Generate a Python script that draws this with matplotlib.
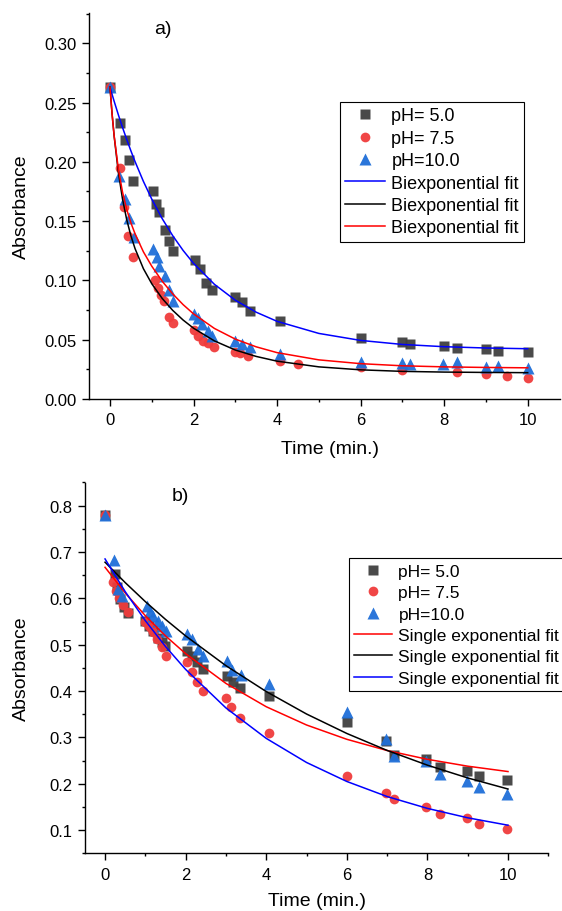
import matplotlib
matplotlib.use("Agg")
import matplotlib.pyplot as plt
from matplotlib.ticker import MultipleLocator

plt.rcParams['font.family'] = ['Liberation Sans', 'DejaVu Sans']

# ---------------- Panel a) data ----------------
a_t_ph5 = [0, 0.24, 0.35, 0.45, 0.56, 1.04, 1.11, 1.17, 1.32, 1.42, 1.52, 2.03, 2.15, 2.3, 2.45,
           3.0, 3.15, 3.35, 4.07, 6.0, 7.0, 7.18, 8.0, 8.3, 9.0, 9.3, 10.0]
a_A_ph5 = [0.263, 0.2325, 0.218, 0.2018, 0.184, 0.1757, 0.1644, 0.158, 0.1425, 0.133, 0.1248, 0.1175,
           0.1096, 0.098, 0.092, 0.086, 0.082, 0.074, 0.066, 0.0512, 0.0478, 0.0464, 0.045, 0.0427,
           0.0421, 0.0407, 0.0399]
a_t_ph75 = [0, 0.24, 0.34, 0.44, 0.56, 1.08, 1.15, 1.22, 1.3, 1.42, 1.5, 2.0, 2.1, 2.22, 2.35, 2.5,
            3.0, 3.12, 3.3, 4.07, 4.51, 6.0, 7.0, 8.3, 9.0, 9.5, 10.0]
a_A_ph75 = [0.263, 0.1945, 0.1616, 0.1377, 0.1194, 0.100, 0.094, 0.088, 0.083, 0.069, 0.064, 0.058,
            0.053, 0.049, 0.047, 0.044, 0.040, 0.039, 0.036, 0.032, 0.0293, 0.0267, 0.0247, 0.023,
            0.0211, 0.0197, 0.0177]
a_t_ph10 = [0, 0.22, 0.35, 0.455, 0.58, 1.04, 1.12, 1.17, 1.32, 1.42, 1.52, 2.0, 2.1, 2.2, 2.35, 2.45,
            3.0, 3.15, 3.35, 4.07, 6.0, 7.0, 7.18, 7.98, 8.3, 9.0, 9.3, 10.0]
a_A_ph10 = [0.263, 0.1877, 0.169, 0.153, 0.1369, 0.1265, 0.12, 0.1124, 0.104, 0.092, 0.083, 0.072,
            0.068, 0.063, 0.057, 0.053, 0.049, 0.046, 0.044, 0.038, 0.0315, 0.030, 0.0293, 0.0293,
            0.031, 0.0273, 0.028, 0.026]

# Biexponential fit curves
a_t_fit = [0, 0.05, 0.1, 0.2, 0.3, 0.4, 0.5, 0.6, 0.8, 1.0, 1.25, 1.5, 1.75, 2, 2.5, 3, 3.5, 4,
           5, 6, 7, 8, 9, 10]
a_fit_blue = [0.263, 0.2569, 0.251, 0.2397, 0.229, 0.2189, 0.2093, 0.2002, 0.1835, 0.1686, 0.1521,
              0.1378, 0.1253, 0.1144, 0.0967, 0.0833, 0.0732, 0.0655, 0.0553, 0.0494, 0.046,
              0.0441, 0.043, 0.0424]
a_fit_black = [0.263, 0.2405, 0.2215, 0.1912, 0.1686, 0.1513, 0.1377, 0.1268, 0.1099, 0.0972,
               0.0848, 0.0748, 0.0666, 0.0597, 0.049, 0.0413, 0.0359, 0.0319, 0.0271, 0.0246,
               0.0233, 0.0227, 0.0224, 0.0222]
a_fit_red = [0.263, 0.2403, 0.2218, 0.1941, 0.1745, 0.16, 0.1486, 0.1393, 0.1241, 0.112, 0.0993,
             0.0887, 0.0796, 0.0718, 0.0595, 0.0505, 0.044, 0.0391, 0.033, 0.0298, 0.028, 0.0271,
             0.0266, 0.0263]

# ---------------- Panel b) data ----------------
b_t_ph5 = [0, 0.25, 0.3, 0.37, 0.46, 0.56, 1.0, 1.1, 1.2, 1.32, 1.42, 1.49, 2.03, 2.15, 2.28, 2.44,
           3.02, 3.17, 3.35, 4.06, 6.0, 6.98, 7.18, 7.97, 8.3, 8.98, 9.29, 9.98]
b_A_ph5 = [0.78, 0.652, 0.625, 0.598, 0.581, 0.568, 0.552, 0.54, 0.53, 0.515, 0.505, 0.498, 0.487,
           0.475, 0.462, 0.447, 0.433, 0.419, 0.406, 0.39, 0.3335, 0.2925, 0.261, 0.253, 0.237,
           0.227, 0.217, 0.2076]
b_t_ph75 = [0, 0.2, 0.27, 0.34, 0.44, 0.56, 1.0, 1.08, 1.15, 1.2, 1.28, 1.41, 1.52, 2.03, 2.15, 2.29,
            2.44, 3.0, 3.13, 3.35, 4.06, 6.0, 6.98, 7.18, 7.97, 8.3, 8.98, 9.29, 9.98]
b_A_ph75 = [0.78, 0.635, 0.615, 0.6, 0.585, 0.57, 0.55, 0.541, 0.535, 0.527, 0.512, 0.494, 0.476,
            0.462, 0.44, 0.419, 0.40, 0.384, 0.365, 0.341, 0.31, 0.217, 0.1795, 0.168, 0.149,
            0.1356, 0.125, 0.1125, 0.103]
b_t_ph10 = [0, 0.22, 0.33, 0.42, 1.03, 1.12, 1.2, 1.32, 1.41, 1.52, 2.03, 2.15, 2.31, 2.44, 3.02,
            3.15, 3.37, 4.06, 6.0, 6.98, 7.18, 7.97, 8.3, 8.98, 9.29, 9.98]
b_A_ph10 = [0.78, 0.683, 0.62, 0.605, 0.584, 0.573, 0.562, 0.552, 0.541, 0.53, 0.523, 0.512, 0.49,
            0.476, 0.464, 0.446, 0.435, 0.415, 0.355, 0.296, 0.2587, 0.249, 0.2205, 0.206, 0.1918,
            0.1777]

# Single exponential fit curves
b_t_fit = [0, 0.5, 1, 1.5, 2, 3, 4, 5, 6, 7, 8, 9, 10]
b_fit_red = [0.667, 0.6116, 0.5625, 0.519, 0.4806, 0.4164, 0.3661, 0.3267, 0.2958, 0.2716, 0.2526,
             0.2378, 0.2262]
b_fit_black = [0.678, 0.634, 0.5929, 0.5546, 0.5189, 0.4547, 0.3989, 0.3504, 0.3084, 0.2718, 0.24,
               0.2124, 0.1885]
b_fit_blue = [0.685, 0.6145, 0.5518, 0.4961, 0.4466, 0.3635, 0.2978, 0.2458, 0.2048, 0.1723,
              0.1467, 0.1264, 0.1104]

labels_ph = ["pH= 5.0", "pH= 7.5", "pH=10.0"]

# ---------------- styling ----------------
W, H = 562, 912
fig = plt.figure(figsize=(W / 100, H / 100), dpi=100)
fig.patch.set_facecolor('white')

C_SQ = '#404040'
C_CI = '#f03c3c'
C_TR = '#1f6fd8'


def px_axes(left, top, right, bottom):
    return fig.add_axes([left / W, 1 - bottom / H, (right - left) / W, (bottom - top) / H])


def style_axes(ax, ymaj, ymin):
    for s in ('top', 'right'):
        ax.spines[s].set_visible(False)
    for s in ('left', 'bottom'):
        ax.spines[s].set_linewidth(1.0)
    ax.xaxis.set_major_locator(MultipleLocator(2))
    ax.xaxis.set_minor_locator(MultipleLocator(1))
    ax.yaxis.set_major_locator(MultipleLocator(ymaj))
    ax.yaxis.set_minor_locator(MultipleLocator(ymin))
    ax.tick_params(which='major', direction='out', length=4.7, width=1.0, labelsize=12, pad=4)
    ax.tick_params(which='minor', direction='out', length=2.5, width=1.0)
    ax.tick_params(axis='x', which='major', pad=5)


def draw_points(ax, t5, a5, t75, a75, t10, a10):
    h1, = ax.plot(t5, a5, 's', color=C_SQ, ms=6.5, mec='none', alpha=0.95, label=labels_ph[0], zorder=3)
    h2, = ax.plot(t75, a75, 'o', color=C_CI, ms=7, mec='none', alpha=0.95, label=labels_ph[1], zorder=3)
    h3, = ax.plot(t10, a10, '^', color=C_TR, ms=8, mec='none', alpha=0.95, label=labels_ph[2], zorder=3)
    return [h1, h2, h3]


# ---------------- panel a ----------------
ax1 = px_axes(89.1, 14, 560, 400)
ax1.set_xlim(-0.5, (560 - 110) / 41.77)
ax1.set_ylim(0, 0.3255)
style_axes(ax1, 0.05, 0.025)
ax1.yaxis.set_major_formatter(matplotlib.ticker.FormatStrFormatter('%.2f'))
hp = draw_points(ax1, a_t_ph5, a_A_ph5, a_t_ph75, a_A_ph75, a_t_ph10, a_A_ph10)
l1, = ax1.plot(a_t_fit, a_fit_blue, '-', color='#0000ff', lw=1.1, label='Biexponential fit', zorder=4)
l2, = ax1.plot(a_t_fit, a_fit_black, '-', color='black', lw=1.1, label='Biexponential fit', zorder=4)
l3, = ax1.plot(a_t_fit, a_fit_red, '-', color='#ff0000', lw=1.1, label='Biexponential fit', zorder=4)
ax1.set_xlabel('Time (min.)', fontsize=14, va='center')
ax1.set_ylabel('Absorbance', fontsize=14, va='center')
ax1.xaxis.set_label_coords((329.7 - 89.1) / 470.9, (400 - 450) / 386)
ax1.yaxis.set_label_coords((21.7 - 89.1) / 470.9, 0.5)
ax1.text(1.27, 0.3125, 'a)', fontsize=14, ha='center', va='center')
leg1 = fig.legend(hp + [l1, l2, l3], [h.get_label() for h in hp + [l1, l2, l3]],
                  loc='upper left', bbox_to_anchor=(340 / W, 1 - 103 / H), fontsize=13,
                  frameon=True, fancybox=False, framealpha=1, edgecolor='black',
                  handlelength=2.2, handletextpad=0.35, labelspacing=0.30, borderpad=0.3,
                  borderaxespad=0, numpoints=1)
leg1.get_frame().set_linewidth(0.8)

# ---------------- panel b ----------------
ax2 = px_axes(84.9, 483.5, 548.3, 854.2)
ax2.set_xlim(-0.5, 11)
ax2.set_ylim(0.05, 0.85)
style_axes(ax2, 0.1, 0.05)
ax2.yaxis.set_major_formatter(matplotlib.ticker.FormatStrFormatter('%.1f'))
ax2.set_yticks([0.1, 0.2, 0.3, 0.4, 0.5, 0.6, 0.7, 0.8])
hp2 = draw_points(ax2, b_t_ph5, b_A_ph5, b_t_ph75, b_A_ph75, b_t_ph10, b_A_ph10)
m1, = ax2.plot(b_t_fit, b_fit_red, '-', color='#ff0000', lw=1.1, label='Single exponential fit', zorder=4)
m2, = ax2.plot(b_t_fit, b_fit_black, '-', color='black', lw=1.1, label='Single exponential fit', zorder=4)
m3, = ax2.plot(b_t_fit, b_fit_blue, '-', color='#0000ff', lw=1.1, label='Single exponential fit', zorder=4)
ax2.set_xlabel('Time (min.)', fontsize=14, va='center')
ax2.set_ylabel('Absorbance', fontsize=14, va='center')
ax2.xaxis.set_label_coords(0.5, (854.2 - 902) / 370.7)
ax2.yaxis.set_label_coords((21.7 - 84.9) / 463.4, 0.5)
ax2.text(1.86, 0.821, 'b)', fontsize=14, ha='center', va='center')
leg2 = fig.legend(hp2 + [m1, m2, m3], [h.get_label() for h in hp2 + [m1, m2, m3]],
                  loc='lower left', bbox_to_anchor=(349 / W, 1 - 692 / H), fontsize=12.5,
                  frameon=True, fancybox=False, framealpha=1, edgecolor='black',
                  handlelength=2.2, handletextpad=0.35, labelspacing=0.36, borderpad=0.3,
                  borderaxespad=0, numpoints=1)
leg2.get_frame().set_linewidth(0.8)

fig.savefig('out.png', dpi=100, facecolor='white')
